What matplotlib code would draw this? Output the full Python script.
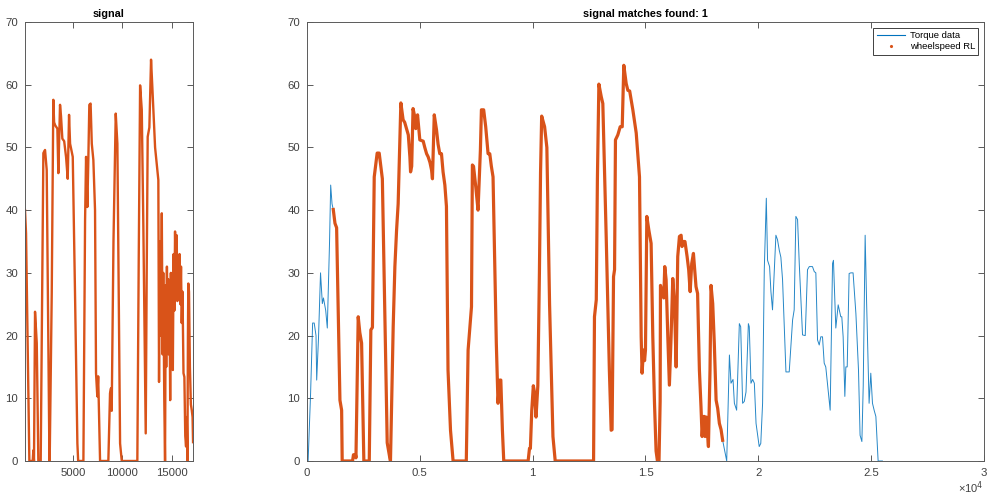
import matplotlib
matplotlib.use("Agg")
import matplotlib.pyplot as plt
from matplotlib.lines import Line2D

plt.rcParams['font.family'] = ['Liberation Sans', 'DejaVu Sans']

ORANGE = '#D95319'
BLUE = '#0072BD'
GREY = '#5a5a5a'

# left panel: the search signal (sample index, value)
sig_x = [130, 233, 570, 910, 975, 1040, 1145, 1320, 1480, 1720, 1990, 2160, 2330, 2600, 2630,
         2840, 3000, 3080, 3200, 3410, 3510, 3680, 3780, 3915, 4100, 4290, 4460, 4595, 4700,
         4830, 4970, 5200, 5440, 5520, 6050, 6220, 6320, 6450, 6550, 6650, 6780, 6900, 7060,
         7230, 7330, 7460, 7550, 7740, 8580, 8750, 8850, 8920, 9100, 9330, 9495, 9770, 9940,
         11520, 11660, 11800, 11970, 12130, 12370, 12470, 12570, 12740, 12910, 13030, 13320,
         13650, 13720, 13800, 13900, 14000, 14080, 14150, 14250, 14330, 14400, 14450, 14520,
         14580, 14650, 14700, 14780, 14850, 14920, 14990, 15060, 15120, 15200, 15280, 15345,
         15420, 15510, 15580, 15650, 15720, 15800, 15880, 15950, 16020, 16100, 16200, 16290,
         16380, 16460, 16530, 16600, 16650, 16690, 16760, 16850, 16950, 17040, 17120, 17170]
sig_y = [40, 36.3, 0, 0, 1.7, 0, 23.8, 18.8, 0, 0, 49.1, 49.6, 46.4, 1.2, 0,
         26.8, 57.6, 54, 53.5, 53, 45.9, 56.8, 55, 51.4, 51, 48.5, 45, 55.2, 50.6,
         49.6, 48.5, 26.7, 2.8, 0, 0, 38.4, 48.5, 40.5, 48, 56.8, 57, 50.6, 48,
         40, 14, 10.3, 13.5, 0, 0, 10.8, 11.6, 8, 35, 55.4, 50.6, 2.8, 0,
         0, 32, 59.9, 56, 37.4, 4.4, 30, 51.7, 53.2, 64, 60, 50,
         44.8, 12.6, 35, 20, 39.5, 17, 30, 10, 0, 28, 15, 31,
         20, 29, 17, 27, 9.7, 30, 15, 29, 14.5, 33, 24, 36.6,
         28, 36, 25.5, 32, 26, 33, 25, 31, 22, 27, 14, 13.4,
         4, 2.3, 7, 0, 20, 28.3, 27, 15, 9, 8.1, 7, 3]

# right panel: wheelspeed RL placed at the match
ws_x = [1165, 1240, 1313, 1460, 1535, 1560, 2020, 2060, 2150, 2170, 2270, 2340, 2420, 2520,
        2760, 2830, 2900, 2980, 3110, 3200, 3300, 3340, 3555, 3670, 3700, 3820, 3895, 3970,
        4040, 4120, 4160, 4260, 4330, 4410, 4490, 4560, 4590, 4640, 4700, 4770, 4820, 4900,
        5000, 5150, 5220, 5300, 5370, 5450, 5520, 5560, 5640, 5740, 5810, 5885, 5960, 6030,
        6110, 6180, 6250, 6360, 6475, 7060, 7140, 7290, 7330, 7380, 7480, 7580, 7685, 7730,
        7830, 7920, 8025, 8100, 8170, 8245, 8390, 8465, 8540, 8590, 8660, 8720, 9800, 9860,
        9900, 9960, 10030, 10080, 10150, 10230, 10300, 10350, 10400, 10530, 10630, 10750,
        10900, 11000, 12700, 12740, 12820, 12870, 12935, 13040, 13110, 13190, 13260, 13400,
        13480, 13520, 13585, 13630, 13670, 13775, 13880, 13970, 14040, 14145, 14220, 14300,
        14440, 14590, 14735, 14810, 14850, 14910, 14960, 15000, 15060, 15150, 15250, 15325,
        15400, 15470, 15530, 15600, 15650, 15665, 15740, 15810, 15855, 15915, 15990, 16060,
        16135, 16210, 16285, 16360, 16430, 16505, 16580, 16620, 16680, 16750, 16845, 16915,
        16980, 17050, 17125, 17180, 17240, 17310, 17390, 17460, 17510, 17570, 17610, 17640,
        17700, 17790, 17860, 17905, 17980, 18050, 18130, 18200, 18275, 18350, 18420]
ws_y = [40.1, 37.9, 37.2, 9.7, 8.1, 0, 0, 1, 1, 0.5, 23, 20.5, 18.8, 0,
        0, 20.9, 21.3, 45.3, 49.1, 49.1, 46.1, 45, 2.9, 0.5, 0, 21.4, 31, 36.8,
        41, 52, 57.1, 54.4, 54, 53, 52, 48.5, 46.1, 47, 56.2, 55, 53, 55.2,
        51.2, 51, 50, 49, 48.5, 47.6, 46.4, 45, 55.2, 52.8, 50.5, 49, 49, 46.1,
        44, 40.6, 14.5, 4.9, 0, 0, 17.7, 24.6, 47.2, 47, 43.7, 40, 49.6, 56,
        56, 53.3, 49, 49, 47, 45.3, 18.8, 9.2, 12.9, 12.9, 4.9, 0, 0, 2,
        2, 8, 12, 11, 7, 12, 30, 46, 55, 53.3, 50, 25,
        3.9, 0, 0, 23, 25.7, 45, 60.1, 58.1, 57, 46, 35.7, 14.5,
        4.9, 5, 29.4, 30.5, 51.2, 52, 53.3, 53.3, 63.1, 60.2, 59.1, 59,
        56, 52.3, 45.3, 19.8, 14, 17.7, 16, 17.7, 39, 36.8, 34.7, 19.8,
        9.2, 1.6, 0, 0, 9.5, 28, 26.7, 26, 31, 28.9, 19.8, 12.1,
        19.8, 29.1, 25.1, 15, 32.6, 35.8, 36, 34.2, 35, 35, 32.6, 30.5,
        27, 31.5, 33.1, 30.5, 27.8, 26.7, 14.5, 8.7, 3.9, 7.1, 7.1, 3.9,
        7, 2.3, 14.5, 28, 25.1, 18.8, 9.7, 8.4, 6, 5, 3.3]

# torque data before and after the matched stretch
tq_head_x = [50, 160, 250, 320, 400, 430, 510, 600, 680, 730, 830, 900, 1000, 1050, 1110]
tq_head_y = [0, 10.8, 22, 22, 20, 12.9, 19.6, 30, 25.1, 26, 24, 21.2, 35, 44, 41]
tq_tail_x = [18600, 18720, 18790, 18880, 18940, 19040, 19160, 19220, 19305, 19380, 19455, 19560,
             19600, 19675, 19750, 19825, 19900, 20040, 20110, 20190, 20265, 20355, 20410, 20500,
             20560, 20630, 20780, 20850, 20930, 21000, 21075, 21225, 21370, 21520, 21590, 21665,
             21740, 21815, 21960, 22080, 22180, 22260, 22400, 22480, 22550, 22625, 22700, 22770,
             22845, 22920, 22990, 23185, 23290, 23330, 23435, 23540, 23655, 23700, 23760, 23835,
             23880, 23940, 24025, 24100, 24200, 24325, 24440, 24510, 24590, 24650, 24735, 24800,
             24910, 24985, 25060, 25140, 25210, 25310, 25500]
tq_tail_y = [0, 16.9, 12.4, 13, 9.2, 8.1, 21.9, 21.4, 9.2, 9.5, 11, 21.9,
             21.4, 12.4, 13, 12.4, 6, 2.3, 2.8, 9.2, 30.5, 41.9, 32, 31,
             27, 24.1, 36, 35.3, 33.6, 32.5, 28.9, 14.2, 14.2, 22.5, 24.1, 39,
             38.5, 31.5, 20.1, 20, 30.5, 31, 31, 30.2, 30, 19.3, 18.5, 19.8,
             19.8, 15.6, 15, 8.1, 31.5, 32, 21.2, 24.9, 23, 23, 19.8, 10.3,
             15, 15, 29.9, 30, 30, 23.5, 14.5, 4.1, 3.1, 12, 36, 25.2,
             9.2, 14, 9.2, 8, 7.1, 0, 0]

tq_x = tq_head_x + ws_x + tq_tail_x
tq_y = tq_head_y + ws_y + tq_tail_y

yticks = [0, 10, 20, 30, 40, 50, 60, 70]


def style(ax):
    for s in ax.spines.values():
        s.set_color(GREY)
        s.set_linewidth(0.7)
    ax.tick_params(direction='in', length=4, width=0.7, color=GREY,
                   labelsize=8.2, labelcolor='#404040', top=True, right=True, pad=5)
    ax.set_ylim(0, 70)
    ax.set_yticks(yticks)


fig = plt.figure(figsize=(9.89, 4.96), dpi=100)

ax1 = fig.add_axes([0.0253, 0.0706, 0.1699, 0.885])
ax1.plot(sig_x, sig_y, color=ORANGE, lw=1.7)
style(ax1)
ax1.set_xlim(130, 17170)
ax1.set_xticks([5000, 10000, 15000])
ax1.set_xticklabels(['5000', '10000', '15000'])
ax1.set_title('signal', fontsize=7.8, fontweight='bold', pad=3.5)

ax2 = fig.add_axes([0.3104, 0.0706, 0.6845, 0.885])
ax2.plot(tq_x, tq_y, color=BLUE, lw=0.7, alpha=0.85)
ax2.plot(ws_x, ws_y, color=ORANGE, lw=2.3)
style(ax2)
ax2.set_xlim(0, 30000)
ax2.set_xticks([0, 5000, 10000, 15000, 20000, 25000, 30000])
ax2.set_xticklabels(['0', '0.5', '1', '1.5', '2', '2.5', '3'])
ax2.set_title('signal matches found: 1', fontsize=7.8, fontweight='bold', pad=3.5)
ax2.text(1.0, -0.062, '×10$^{4}$', transform=ax2.transAxes, ha='right', va='center',
         fontsize=8, color='#404040')

handles = [Line2D([], [], color=BLUE, lw=0.8),
           Line2D([], [], color=ORANGE, marker='.', ls='none', markersize=2.5)]
leg = ax2.legend(handles, ['Torque data', 'wheelspeed RL'], loc='upper right',
                 fontsize=6.8, fancybox=False, framealpha=1, edgecolor='#404040',
                 borderaxespad=0.6, handlelength=3.0, handletextpad=0.5,
                 borderpad=0.35, labelspacing=0.25)
leg.get_frame().set_linewidth(0.7)

fig.savefig('out.png', dpi=100)
